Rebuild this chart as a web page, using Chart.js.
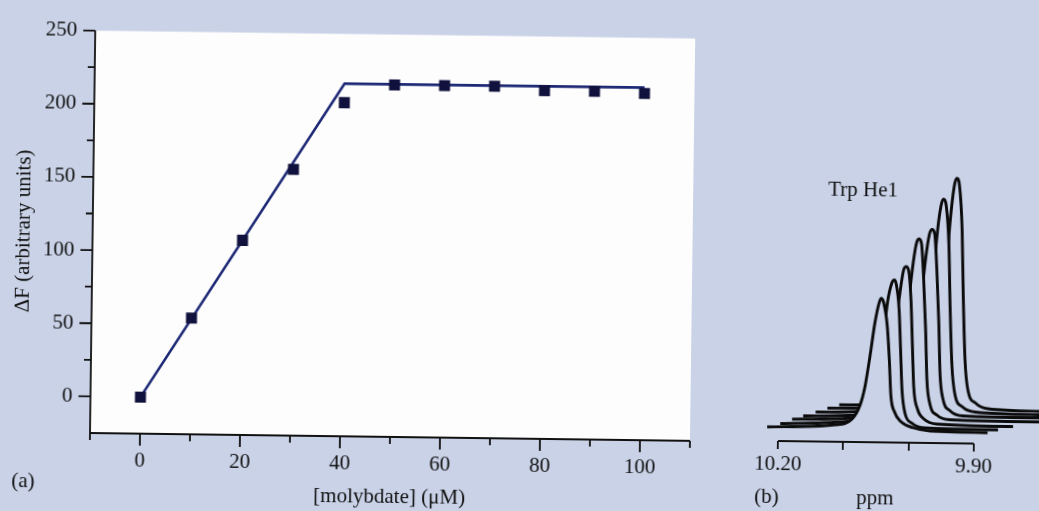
<!DOCTYPE html>
<html>
<head>
<meta charset="utf-8">
<title>Molybdate titration</title>
<script src="https://cdn.jsdelivr.net/npm/chart.js@4.4.1/dist/chart.umd.min.js"></script>
<style>
  html, body { margin: 0; padding: 0; background: #c9d2e7; overflow: hidden; }
  /* the scanned figure sits slightly rotated on the page */
  #page { position: relative; width: 1039px; height: 511px; transform: rotate(0.75deg); transform-origin: 90px 433px;
          font-family: 'Liberation Serif', 'Times New Roman', serif; color: #111; }
  #chartA { position: absolute; left: 0; top: 0; width: 700px; height: 511px; }
  #chartB { position: absolute; left: 739px; top: 151px; width: 300px; height: 360px; }
  .lbl { position: absolute; font-size: 21px; line-height: 21px; white-space: nowrap; }
</style>
</head>
<body>
<div id="page">
  <canvas id="chartA" width="700" height="511"></canvas>
  <canvas id="chartB" width="300" height="360"></canvas>
  <div class="lbl" style="left:12px;top:471px">(a)</div>
  <div class="lbl" style="left:755px;top:477px">(b)</div>
  <div class="lbl" style="left:857px;top:477px">ppm</div>
  <div class="lbl" style="left:825px;top:169px">Trp He1</div>
</div>
<script>
// (a) fluorescence change vs molybdate
const molybdate = [0, 10, 20, 30, 40, 50, 60, 70, 80, 90, 100];
const deltaF = [0, 54.5, 108, 157, 203, 215.5, 215.5, 215.5, 213, 213, 212];
const fitX = [0, 40, 100];
const fitY = [0, 216, 216];

const xMajorTicks = [0, 20, 40, 60, 80, 100];
const xMinorTicks = [-10, 10, 30, 50, 70, 90, 110];
const yMajorTicks = [0, 50, 100, 150, 200, 250];
const yMinorTicks = [25, 75, 125, 175, 225];

// (b) stacked Trp He1 spectra, front trace first: [ppm, intensity]
const spectrum1 = [[10.217, 14], [10.113, 17], [10.087, 23], [10.075, 37], [10.068, 55], [10.061, 85], [10.054, 119], [10.048, 139], [10.045, 144], [10.041, 140], [10.035, 117], [10.031, 82], [10.028, 47], [10.022, 30.5], [10.013, 21.5], [9.993, 15], [9.967, 12], [9.879, 11]];
const spectrum2 = [[10.197, 17.5], [10.094, 20.5], [10.065, 28], [10.056, 44], [10.048, 67], [10.041, 102], [10.035, 140], [10.029, 159], [10.025, 162.5], [10.022, 158.5], [10.017, 132.5], [10.014, 92.5], [10.011, 52.5], [10.006, 29.5], [9.995, 19.5], [9.975, 15], [9.863, 14]];
const spectrum3 = [[10.179, 22], [10.076, 24.5], [10.047, 32], [10.037, 48], [10.030, 72.5], [10.023, 109.5], [10.016, 150.5], [10.011, 172.5], [10.007, 176], [10.003, 171.5], [9.999, 142.5], [9.996, 97.5], [9.993, 55], [9.987, 34], [9.977, 24], [9.957, 19], [9.840, 17.5]];
const spectrum4 = [[10.162, 25.5], [10.058, 28], [10.030, 36.5], [10.019, 52.5], [10.011, 80.5], [10.005, 122.5], [9.998, 171], [9.992, 199], [9.988, 204], [9.984, 199], [9.980, 163], [9.976, 113], [9.973, 63], [9.968, 39], [9.957, 28], [9.937, 23.5], [9.791, 22.5]];
const spectrum5 = [[10.143, 29.5], [10.038, 32], [10.010, 40.5], [9.999, 56.5], [9.992, 86], [9.985, 130], [9.978, 181], [9.972, 209], [9.968, 213.5], [9.964, 209], [9.960, 173], [9.956, 121], [9.953, 69], [9.948, 44], [9.937, 32.5], [9.917, 27.5], [9.791, 26.5]];
const spectrum6 = [[10.125, 33.5], [10.019, 35.5], [9.991, 45], [9.981, 62], [9.974, 93], [9.967, 143], [9.961, 203], [9.955, 237], [9.951, 244], [9.947, 238], [9.942, 198], [9.939, 138], [9.935, 78], [9.930, 49.5], [9.918, 36.5], [9.898, 31.5], [9.791, 29.5]];
const spectrum7 = [[10.107, 37], [9.999, 39], [9.971, 49], [9.961, 67], [9.954, 100], [9.947, 153], [9.941, 218], [9.935, 257], [9.931, 265], [9.927, 258], [9.922, 213], [9.919, 148], [9.915, 83.5], [9.910, 53.5], [9.898, 40.5], [9.879, 35], [9.791, 33]];
const spectra = [spectrum1, spectrum2, spectrum3, spectrum4, spectrum5, spectrum6, spectrum7];

const ppmTicks = [10.20, 10.10, 10.00, 9.90];
const ppmLabels = [10.20, 9.90];

const paperColor = '#c9d2e7';
const ink = '#111111';
const markerColor = '#10113c';
const fitColor = '#1d2875';

Chart.defaults.font.family = "'Liberation Serif', 'Times New Roman', serif";
Chart.defaults.font.size = 21;
Chart.defaults.color = ink;

// white plot area, axis lines and two lengths of tick marks for panel (a)
const frameA = {
  id: 'frameA',
  beforeDraw(chart) {
    const { ctx, chartArea: a } = chart;
    ctx.save();
    ctx.fillStyle = '#fdfdfd';
    ctx.fillRect(a.left, a.top, a.right - a.left, a.bottom - a.top);
    ctx.restore();
  },
  afterDraw(chart) {
    const { ctx, chartArea: a } = chart;
    const x = chart.scales.x, y = chart.scales.y;
    ctx.save();
    ctx.strokeStyle = ink;
    ctx.lineWidth = 1.8;
    ctx.beginPath();
    ctx.moveTo(a.left, a.top);
    ctx.lineTo(a.left, a.bottom);
    ctx.moveTo(x.getPixelForValue(xMinorTicks[0]), a.bottom);
    ctx.lineTo(x.getPixelForValue(xMinorTicks[xMinorTicks.length - 1]), a.bottom);
    xMajorTicks.forEach(v => { const p = x.getPixelForValue(v); ctx.moveTo(p, a.bottom); ctx.lineTo(p, a.bottom + 12); });
    xMinorTicks.forEach(v => { const p = x.getPixelForValue(v); ctx.moveTo(p, a.bottom); ctx.lineTo(p, a.bottom + 7); });
    yMajorTicks.forEach(v => { const p = y.getPixelForValue(v); ctx.moveTo(a.left, p); ctx.lineTo(a.left - 12, p); });
    yMinorTicks.forEach(v => { const p = y.getPixelForValue(v); ctx.moveTo(a.left, p); ctx.lineTo(a.left - 7, p); });
    ctx.stroke();
    ctx.restore();
  }
};

// ppm axis line only between the first and last tick
const axisB = {
  id: 'axisB',
  afterDraw(chart) {
    const { ctx, chartArea: a } = chart;
    const x = chart.scales.x;
    ctx.save();
    ctx.strokeStyle = ink;
    ctx.lineWidth = 1.8;
    ctx.beginPath();
    ctx.moveTo(x.getPixelForValue(ppmTicks[0]), a.bottom);
    ctx.lineTo(x.getPixelForValue(ppmTicks[ppmTicks.length - 1]), a.bottom);
    ctx.stroke();
    ctx.restore();
  }
};

function toPoints(xs, ys) {
  return xs.map((v, i) => ({ x: v, y: ys[i] }));
}

new Chart(document.getElementById('chartA'), {
  type: 'scatter',
  data: {
    datasets: [
      {
        data: toPoints(molybdate, deltaF),
        pointStyle: 'rect',
        pointRadius: 7.8,
        pointHoverRadius: 7.8,
        backgroundColor: markerColor,
        borderWidth: 0
      },
      {
        data: toPoints(fitX, fitY),
        showLine: true,
        borderColor: fitColor,
        borderWidth: 2.6,
        pointRadius: 0
      }
    ]
  },
  options: {
    responsive: false,
    animation: false,
    events: [],
    layout: { padding: { top: 20, right: 10, left: 0, bottom: 0 } },
    plugins: { legend: { display: false }, tooltip: { enabled: false } },
    scales: {
      x: {
        type: 'linear',
        min: -10,
        max: 110,
        afterBuildTicks: s => { s.ticks = xMajorTicks.map(v => ({ value: v })); },
        afterFit: s => { s.height = 78; },
        grid: { display: false, drawTicks: false },
        border: { display: false },
        ticks: { padding: 15 },
        title: { display: true, text: '[molybdate] (μM)', padding: { top: 0, bottom: 5 } }
      },
      y: {
        type: 'linear',
        min: -25,
        max: 250,
        afterBuildTicks: s => { s.ticks = yMajorTicks.map(v => ({ value: v })); },
        afterFit: s => { s.width = 90; },
        grid: { display: false, drawTicks: false },
        border: { display: false },
        ticks: { padding: 18 },
        title: { display: true, text: 'ΔF (arbitrary units)', padding: { top: 8.5, bottom: 0 } }
      }
    }
  },
  plugins: [frameA]
});

new Chart(document.getElementById('chartB'), {
  type: 'line',
  data: {
    datasets: spectra.map(s => ({
      data: s.map(p => ({ x: p[0], y: p[1] })),
      borderColor: '#0b0b0b',
      borderWidth: 2.9,
      borderJoinStyle: 'round',
      backgroundColor: paperColor,
      fill: 'start',
      pointRadius: 0,
      cubicInterpolationMode: 'monotone'
    }))
  },
  options: {
    responsive: false,
    animation: false,
    events: [],
    layout: { padding: 0 },
    plugins: { legend: { display: false }, tooltip: { enabled: false } },
    scales: {
      x: {
        type: 'linear',
        reverse: true,
        min: 9.80,
        max: 10.26,
        afterBuildTicks: s => { s.ticks = ppmTicks.map(v => ({ value: v })); },
        afterFit: s => { s.height = 79; },
        grid: { drawOnChartArea: false, drawTicks: true, tickLength: 8, color: ink, lineWidth: 1.8 },
        border: { display: false },
        ticks: {
          padding: 3,
          callback: v => ppmLabels.some(l => Math.abs(l - v) < 1e-6) ? v.toFixed(2) : ''
        }
      },
      y: { display: false, min: 0, max: 281 }
    }
  },
  plugins: [axisB]
});
</script>
</body>
</html>
